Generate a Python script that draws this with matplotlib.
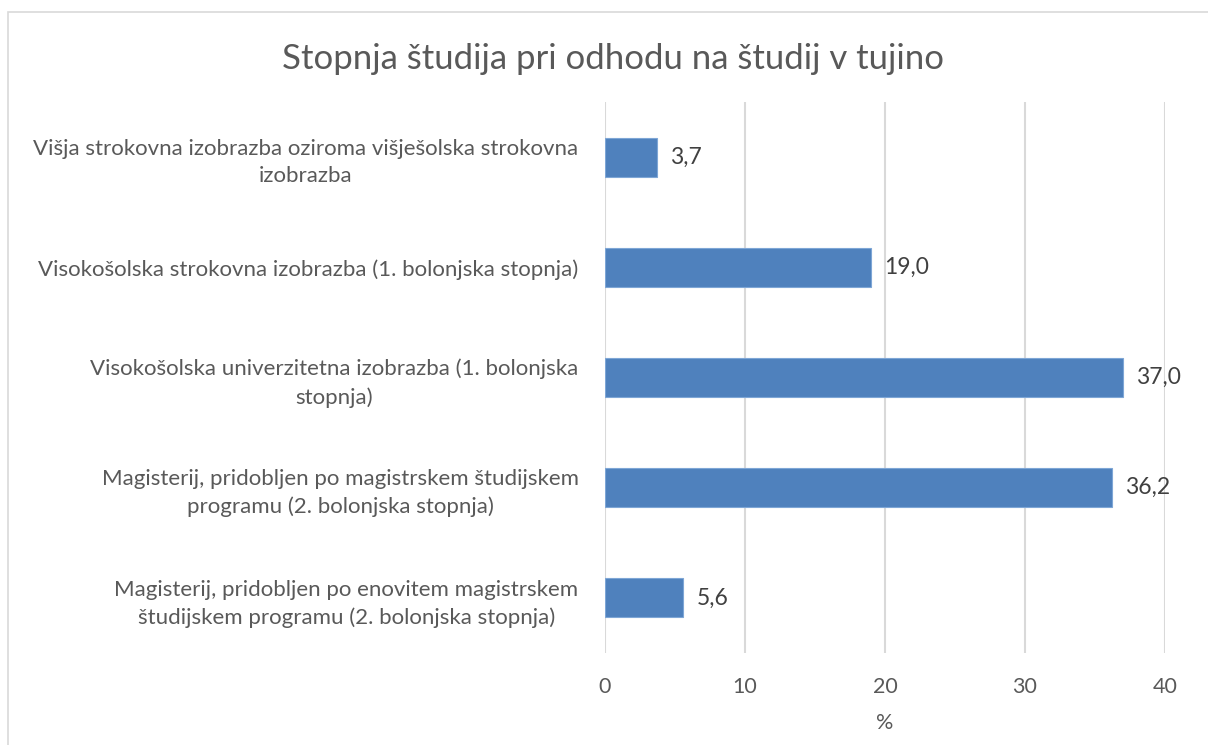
import matplotlib
matplotlib.use("Agg")
import matplotlib.pyplot as plt
from matplotlib.patches import Rectangle

categories = [
    "Višja strokovna izobrazba oziroma višješolska strokovna\nizobrazba",
    "Visokošolska strokovna izobrazba (1. bolonjska stopnja)",
    "Visokošolska univerzitetna izobrazba (1. bolonjska\nstopnja)",
    "Magisterij, pridobljen po magistrskem študijskem\nprogramu (2. bolonjska stopnja)",
    "Magisterij, pridobljen po enovitem magistrskem\nštudijskem programu (2. bolonjska stopnja)",
]
values = [3.7, 19.0, 37.0, 36.2, 5.6]
x_ticks = [0, 10, 20, 30, 40]

title = "Stopnja študija pri odhodu na študij v tujino"
x_label = "%"

text_color = "#595959"
bar_color = "#4f81bd"
grid_color = "#d9d9d9"

plt.rcParams["font.family"] = ["Lato", "DejaVu Sans"]

fig = plt.figure(figsize=(12.08, 7.45), dpi=100)
fig.patches.append(Rectangle((8 / 1208, -0.01), 1.02, 1 - 12 / 745 + 0.01,
                             transform=fig.transFigure, fill=False,
                             edgecolor="#d9d9d9", linewidth=1.2))

ax = fig.add_axes([605 / 1208, 1 - 653 / 745, 560 / 1208, 551 / 745])

pos = list(range(len(categories)))
ax.barh(pos, values, height=0.355, color=bar_color, edgecolor="#7ea6d6",
        linewidth=0.8, zorder=3)

for p, v in zip(pos, values):
    ax.text(v + 0.95, p, f"{v:.1f}".replace(".", ","), va="center", ha="left",
            fontsize=16.5, color="#404040")

ax.set_xlim(0, 40)
ax.set_ylim(len(categories) - 0.5, -0.5)
ax.set_xticks(x_ticks)
ax.set_xticklabels([str(t) for t in x_ticks], fontsize=15.5, color=text_color)
ax.set_yticks(pos)
ax.set_yticklabels(categories, fontsize=16, color=text_color,
                   multialignment="center", linespacing=1.45)
ax.tick_params(axis="both", length=0)
ax.tick_params(axis="y", pad=19)
ax.tick_params(axis="x", pad=17)
ax.grid(axis="x", color=grid_color, linewidth=1.5, zorder=0)
for s in ax.spines.values():
    s.set_visible(False)

ax.set_xlabel(x_label, fontsize=15.5, color=text_color, labelpad=12)
fig.text(613 / 1208, 1 - 59 / 745, title, ha="center", va="center",
         fontsize=25, color=text_color)

fig.savefig("out.png", dpi=100)
